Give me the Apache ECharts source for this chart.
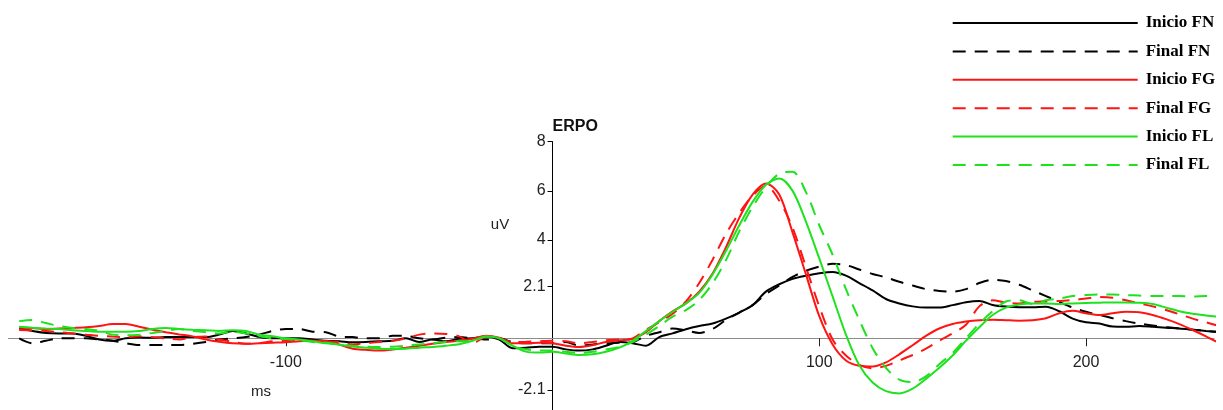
<!DOCTYPE html>
<html><head><meta charset="utf-8">
<script src="https://cdn.jsdelivr.net/npm/echarts/dist/echarts.min.js"></script>
<style>html,body{margin:0;padding:0;background:#fff}#c{width:1223px;height:410px}</style>
</head><body><div id="c"></div>
<script>
// Time axis (ms)
const timeMs = [-200,-195,-190,-185,-180,-175,-170,-165,-160,-155,-150,-145,-140,-135,-130,-125,-120,-115,-110,-105,
-100,-95,-90,-85,-80,-75,-70,-65,-60,-55,-50,-45,-40,-35,-30,-25,-20,-15,-10,-5,
0,5,10,15,20,25,30,35,40,45,50,55,60,65,70,75,80,85,90,95,
100,105,110,115,120,125,130,135,140,145,150,155,160,165,170,175,180,185,190,195,
200,205,210,215,220,225,230,235,240,245,250];

const inicioFN = [0.4,0.3,0.22,0.2,0.2,0.1,-0.05,-0.1,0.0,0.03, 0.02,0.05,0.05,0.05,0.05,0.15,0.3,0.2,0.05,0.0,
0.0,0.0,-0.05,-0.1,-0.12,-0.16,-0.15,-0.12,-0.1,0.0, -0.15,-0.05,-0.12,-0.02,0.0,0.07,-0.05,-0.4,-0.38,-0.34,
-0.34,-0.45,-0.5,-0.45,-0.3,-0.15,-0.2,-0.3,0.05,0.2, 0.37,0.5,0.6,0.8,1.05,1.35,1.9,2.2,2.42,2.55,
2.65,2.7,2.55,2.25,1.95,1.6,1.42,1.3,1.25,1.25, 1.35,1.47,1.52,1.36,1.29,1.26,1.26,1.28,1.1,0.8,
0.65,0.6,0.48,0.47,0.5,0.47,0.43,0.4,0.35,0.3,0.26];

const finalFN = [0.0,-0.2,-0.1,0.0,0.0,0.0,-0.05,-0.1,-0.2,-0.27, -0.27,-0.27,-0.27,-0.22,-0.15,-0.05,0.0,0.05,0.15,0.3,
0.38,0.38,0.27,0.25,0.07,0.05,0.0,0.0,0.1,0.1, 0.0,-0.05,0.03,0.05,0.0,-0.05,0.0,-0.15,-0.2,-0.2,
-0.2,-0.15,-0.3,-0.25,-0.2,-0.18,-0.15,0.1,0.25,0.4, 0.32,0.22,0.38,0.75,1.05,1.35,1.8,2.15,2.5,2.75,
2.92,3.03,2.98,2.8,2.62,2.48,2.3,2.15,2.0,1.93, 1.9,2.0,2.25,2.38,2.33,2.18,1.95,1.72,1.48,1.25,
1.08,0.95,0.82,0.7,0.6,0.52,0.46,0.4,0.35,0.3,0.26];

const inicioFG = [0.43,0.42,0.38,0.4,0.42,0.45,0.5,0.58,0.58,0.47, 0.35,0.25,0.16,0.08,-0.05,-0.14,-0.2,-0.22,-0.2,-0.18,
-0.16,-0.12,-0.1,-0.12,-0.25,-0.42,-0.47,-0.5,-0.45,-0.38, -0.3,-0.22,-0.15,-0.1,-0.02,0.1,0.02,-0.2,-0.2,-0.18,
-0.2,-0.3,-0.35,-0.28,-0.15,-0.08,-0.03,0.25,0.7,1.1, 1.42,1.9,2.64,3.7,4.9,5.85,6.3,5.85,4.3,2.6,
0.9,-0.25,-0.9,-1.12,-1.15,-0.98,-0.65,-0.28,0.1,0.4, 0.58,0.68,0.74,0.76,0.74,0.72,0.74,0.82,1.02,1.12,
1.02,0.95,1.02,1.08,1.06,0.95,0.78,0.58,0.34,0.08,-0.2];

const finalFG = [0.34,0.33,0.3,0.25,0.2,0.15,0.1,0.07,0.05,0.08, 0.05,0.0,-0.05,0.05,0.07,-0.05,-0.14,-0.22,-0.2,-0.12,
-0.1,-0.08,-0.1,-0.12,-0.15,-0.25,-0.2,-0.15,-0.1,0.0, 0.15,0.2,0.18,0.08,-0.2,0.05,0.0,-0.15,-0.14,-0.12,
-0.1,-0.12,-0.2,-0.15,-0.08,-0.05,0.0,0.35,0.65,1.0, 1.5,2.25,3.2,4.25,5.1,5.8,6.2,5.6,4.5,2.9,
1.3,-0.05,-0.7,-1.08,-1.22,-1.12,-0.9,-0.68,-0.42,-0.1, 0.2,0.55,1.3,1.55,1.45,1.42,1.48,1.5,1.52,1.56,
1.62,1.68,1.65,1.55,1.42,1.3,1.15,0.98,0.8,0.65,0.5];

const inicioFL = [0.47,0.43,0.4,0.38,0.33,0.3,0.27,0.27,0.27,0.3, 0.38,0.42,0.38,0.35,0.33,0.3,0.33,0.3,0.15,0.08,
0.0,-0.05,-0.12,-0.2,-0.26,-0.33,-0.38,-0.42,-0.43,-0.42, -0.38,-0.35,-0.3,-0.24,-0.1,0.07,0.0,-0.3,-0.54,-0.58,
-0.55,-0.62,-0.68,-0.65,-0.55,-0.38,-0.1,0.3,0.7,1.08, 1.42,1.85,2.6,3.55,4.6,5.55,6.25,6.5,6.0,4.75,
3.25,1.7,0.15,-1.1,-1.8,-2.15,-2.24,-2.05,-1.65,-1.2, -0.7,-0.1,0.45,0.95,1.25,1.38,1.42,1.42,1.4,1.42,
1.44,1.45,1.46,1.46,1.45,1.4,1.25,1.1,1.0,0.93,0.88];

const finalFL = [0.7,0.75,0.62,0.5,0.42,0.38,0.3,0.15,0.12,0.15, 0.22,0.3,0.38,0.3,0.25,0.2,0.27,0.2,0.08,0.0,
-0.03,-0.08,-0.15,-0.18,-0.25,-0.3,-0.34,-0.35,-0.34,-0.3, -0.25,-0.2,-0.15,-0.12,-0.12,0.07,0.0,-0.3,-0.45,-0.5,
-0.5,-0.55,-0.6,-0.55,-0.45,-0.35,-0.15,0.15,0.5,0.88, 1.15,1.56,2.24,3.18,4.35,5.35,6.15,6.7,6.78,5.95,
4.6,3.4,2.0,0.75,-0.4,-1.2,-1.68,-1.78,-1.55,-1.05, -0.6,0.0,0.6,1.1,1.5,1.55,1.4,1.55,1.62,1.72,
1.76,1.78,1.78,1.76,1.74,1.72,1.72,1.72,1.7,1.72,1.72];

const seriesNames = ['Inicio FN','Final FN','Inicio FG','Final FG','Inicio FL','Final FL'];
const xTicks = [-100, 100, 200];
const yTicks = [-2.1, 2.1, 4, 6, 8];

const BLACK = '#000000', RED = '#ff1414', GREEN = '#1ee21e';

function mk(name, vals, color, dashed) {
  return {
    name: name, type: 'line',
    data: timeMs.map((t, i) => [t, vals[i]]),
    symbol: 'none', showSymbol: false, smooth: 0.3,
    lineStyle: { color: color, width: 2, type: dashed ? [13, 9] : 'solid' },
    itemStyle: { color: color },
    emphasis: { disabled: true }
  };
}

// grid geometry: x from -204..248, y from -2.9..8
const GRID = { left: 8.5, right: 9, top: 141.7, bottom: 0.4 };
const X_MIN = -204, X_MAX = 248, Y_MIN = -2.9, Y_MAX = 8;
const plotW = 1223 - GRID.left - GRID.right;
const plotH = 410 - GRID.top - GRID.bottom;
const zeroY = GRID.top + (Y_MAX / (Y_MAX - Y_MIN)) * plotH;
const zeroX = GRID.left + (-X_MIN / (X_MAX - X_MIN)) * plotW;
const xOffset = -((410 - GRID.bottom) - zeroY);
const yOffset = -(zeroX - GRID.left);

const chart = echarts.init(document.getElementById('c'));
chart.setOption({
  animation: false,
  backgroundColor: '#ffffff',
  grid: Object.assign({ containLabel: false, outerBoundsMode: 'none' }, GRID),
  legend: {
    orient: 'vertical', left: 946.7, top: 9.5,
    itemWidth: 185, itemHeight: 14, itemGap: 11.4,
    data: seriesNames,
    itemStyle: { opacity: 0 },
    textStyle: { fontFamily: 'Liberation Serif', fontWeight: 'bold', fontSize: 17, color: '#000', padding: [0, 0, 0, 3] }
  },
  xAxis: {
    type: 'value', min: X_MIN, max: X_MAX, position: 'bottom', offset: xOffset,
    axisLine: { onZero: false, lineStyle: { color: '#8c8c8c', width: 1 } },
    axisTick: { show: true, customValues: xTicks, length: 8, lineStyle: { color: '#222' } },
    axisLabel: { customValues: xTicks, margin: 16, fontFamily: 'Liberation Sans', fontSize: 16, color: '#222' },
    splitLine: { show: false }
  },
  yAxis: {
    type: 'value', min: Y_MIN, max: Y_MAX, position: 'left', offset: yOffset,
    name: 'ERPO', nameLocation: 'end', nameGap: 15,
    nameTextStyle: { fontFamily: 'Liberation Sans', fontWeight: 'bold', fontSize: 16, color: '#111', align: 'left', verticalAlign: 'middle' },
    axisLine: { show: true, onZero: false, lineStyle: { color: '#000', width: 1 } },
    axisTick: { show: true, customValues: yTicks, length: 5, lineStyle: { color: '#000' } },
    axisLabel: { customValues: yTicks, margin: 7, fontFamily: 'Liberation Sans', fontSize: 16, color: '#222',
      formatter: v => String(v) },
    splitLine: { show: false }
  },
  graphic: [
    { type: 'text', x: 500, y: 225, style: { text: 'uV', align: 'center', verticalAlign: 'middle', font: '15px "Liberation Sans"', fill: '#222' } },
    { type: 'text', x: 261, y: 392, style: { text: 'ms', align: 'center', verticalAlign: 'middle', font: '15px "Liberation Sans"', fill: '#222' } }
  ],
  series: [
    mk(seriesNames[0], inicioFN, BLACK, false),
    mk(seriesNames[1], finalFN, BLACK, true),
    mk(seriesNames[2], inicioFG, RED, false),
    mk(seriesNames[3], finalFG, RED, true),
    mk(seriesNames[4], inicioFL, GREEN, false),
    mk(seriesNames[5], finalFL, GREEN, true)
  ]
});
</script></body></html>
